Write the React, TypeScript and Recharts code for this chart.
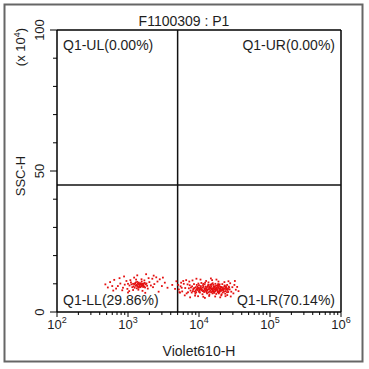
import React from 'react';
import { ScatterChart, Scatter, XAxis, YAxis, ReferenceLine, ReferenceArea } from 'recharts';

const chartTitle = 'F1100309 : P1';
const xTitle = 'Violet610-H';
const yTitle = 'SSC-H';
const yUnitBase = '(x 10';
const yUnitExp = '4';
const yUnitEnd = ')';

const xTicks = [
  100, 200, 300, 400, 500, 600, 700, 800, 900,
  1000, 2000, 3000, 4000, 5000, 6000, 7000, 8000, 9000,
  10000, 20000, 30000, 40000, 50000, 60000, 70000, 80000, 90000,
  100000, 200000, 300000, 400000, 500000, 600000, 700000, 800000, 900000,
  1000000,
];
const yTicks = [0, 10, 20, 30, 40, 50, 60, 70, 80, 90, 100];
const yLabelTicks = [0, 50, 100];

const xGate = 5000;
const yGate = 45;

const qUL = 'Q1-UL(0.00%)';
const qUR = 'Q1-UR(0.00%)';
const qLL = 'Q1-LL(29.86%)';
const qLR = 'Q1-LR(70.14%)';

// Q1-LL population (Violet610-H, SSC-H x10^4)
const llPoints: [number, number][] = [
  [1050, 9.4], [1120, 9.8], [1200, 9.1], [1260, 10.2], [1310, 9.6], [1380, 9.0], [1420, 10.4], [1480, 9.7],
  [1530, 9.2], [1600, 10.0], [1650, 9.5], [1720, 10.3], [1780, 9.8], [1150, 8.8], [1240, 8.6], [1350, 10.7],
  [1450, 8.9], [1560, 10.8], [1690, 9.0], [1820, 10.1], [1000, 10.0], [1100, 10.5], [1280, 9.3], [1390, 9.9],
  [1510, 10.2], [1620, 9.6], [1740, 8.7], [1860, 9.3], [1330, 8.4], [1470, 10.0],
  [1230, 9.9], [1340, 9.3], [1440, 9.5], [1580, 9.4], [1670, 10.1], [1370, 10.1], [1500, 8.8], [1180, 10.0],
  [1410, 8.6], [1630, 8.9], [1290, 10.5], [1540, 9.9],
  [720, 9.2], [780, 10.1], [850, 8.6], [900, 9.7], [950, 11.0], [980, 8.2], [1080, 11.3], [1180, 7.8],
  [1300, 11.5], [1400, 7.9], [1550, 11.6], [1700, 11.2], [1900, 8.3], [2000, 10.6], [2100, 9.4], [2200, 11.8],
  [2350, 9.9], [2500, 12.3], [2600, 10.8], [1950, 12.0], [830, 7.7], [1220, 12.2], [1600, 7.5], [2250, 8.8],
  [1040, 7.4],
  [480, 9.8], [520, 8.7], [560, 10.6], [600, 9.2], [640, 11.4], [680, 8.3], [760, 12.0], [880, 12.6],
  [1000, 6.9], [1350, 13.0], [1800, 13.4], [2300, 12.9], [2800, 11.6], [3000, 9.2], [3300, 10.4], [3600, 8.6],
  [2700, 7.2], [1750, 6.8], [620, 7.6], [3100, 12.2], [4200, 9.6], [4600, 8.2], [4800, 10.9],
];

// Q1-LR population
const lrPoints: [number, number][] = [
  [7200, 8.4], [7600, 7.6], [8000, 9.1], [8300, 8.0], [8700, 7.2], [9000, 8.8], [9300, 9.6], [9600, 7.8],
  [10000, 8.4], [10300, 6.9], [10600, 9.2], [11000, 8.0], [11300, 7.4], [11600, 8.9], [12000, 9.8], [12300, 7.7],
  [12700, 8.5], [13000, 6.6], [13400, 9.3], [13800, 8.1], [14200, 7.3], [14600, 8.7], [15000, 9.9], [15400, 7.9],
  [15800, 8.4], [16300, 6.8], [16700, 9.1], [17200, 7.6], [17700, 8.6], [18200, 9.5], [18700, 7.1], [19200, 8.2],
  [19800, 9.0], [20400, 7.5], [21000, 8.8], [21600, 6.9], [22300, 8.1], [23000, 9.4], [23700, 7.4], [24500, 8.5],
  [25300, 7.8], [26200, 9.0], [27000, 8.0],
  [7400, 9.5], [7900, 6.9], [8500, 9.9], [8900, 6.5], [9400, 8.2], [9800, 10.1], [10200, 7.5], [10800, 10.3],
  [11200, 6.3], [11800, 7.1], [12200, 10.4], [12900, 7.9], [13200, 8.9], [13600, 10.5], [14000, 6.2], [14400, 9.6],
  [14800, 7.0], [15200, 8.1], [15600, 10.2], [16000, 7.4], [16500, 8.0], [17000, 10.0], [17500, 6.4], [18000, 7.8],
  [18500, 8.9], [19000, 6.6], [19500, 9.8], [20100, 8.4], [20800, 6.3], [21300, 9.9], [22000, 7.6], [22700, 9.0],
  [23400, 6.5], [24100, 8.0], [24900, 9.6], [25800, 7.1], [26600, 8.7],
  [7000, 7.0], [7700, 8.7], [8200, 7.4], [8600, 8.5], [9100, 7.0], [9500, 9.0], [9900, 7.2], [10400, 8.7],
  [10900, 7.7], [11400, 9.5], [11900, 8.3], [12500, 9.0], [13100, 7.6], [13700, 7.0], [14300, 8.3], [14900, 9.2],
  [15500, 6.6], [16100, 8.9], [16800, 7.3], [17400, 9.3], [17900, 8.1], [18400, 7.4], [19100, 9.4], [19700, 7.3],
  [20300, 8.9], [21100, 7.9], [21800, 8.5], [22500, 7.2], [23200, 8.3], [24000, 9.1], [24800, 7.0], [25600, 8.2],
  [9200, 8.0], [9700, 8.6], [10100, 7.9], [10700, 8.3], [11100, 8.7], [11700, 7.6], [12100, 8.1], [12600, 7.3],
  [13300, 8.0], [13900, 8.6], [14500, 7.7], [15100, 8.4], [15700, 7.5], [16200, 8.2], [16600, 8.7], [17100, 7.9],
  [17800, 8.3], [18300, 7.0], [18900, 8.6], [19400, 7.7], [20000, 8.1], [20700, 7.7], [21400, 8.2], [10000, 9.5],
  [11500, 10.0], [13500, 9.7], [15900, 9.6], [18600, 9.9], [8400, 8.3], [9000, 7.6], [12800, 7.0], [14100, 9.0],
  [16400, 7.0], [19300, 7.0], [21900, 7.8], [23800, 8.7], [10600, 8.1], [12400, 8.4], [15300, 7.2], [17300, 8.4],
  [5200, 8.0], [5500, 9.1], [5800, 7.3], [6100, 10.0], [6400, 8.5], [6700, 6.6], [6900, 9.8], [5400, 6.9],
  [6000, 11.0], [6600, 11.3], [7300, 10.8], [8100, 11.2], [8800, 5.8], [9700, 5.6], [10500, 11.5], [11500, 5.4],
  [12600, 11.0], [13900, 5.7], [15300, 11.3], [16900, 5.5], [18800, 10.8], [20600, 5.9], [22800, 10.6], [25000, 6.0],
  [27500, 10.2], [28500, 7.2], [29500, 8.8], [30500, 6.6], [31500, 9.6], [33000, 7.9], [34500, 8.9], [28000, 5.5],
  [26000, 10.9], [32000, 11.0], [5600, 10.4], [6300, 5.9], [7500, 5.2], [9200, 11.8], [12100, 5.0], [14700, 11.9],
  [17600, 11.5], [19900, 5.2], [23600, 5.6], [36000, 7.4], [5100, 9.6], [5300, 7.0], [5700, 8.6],
];

const llData = llPoints.map(([x, y]) => ({ x, y }));
const lrData = lrPoints.map(([x, y]) => ({ x, y }));

const FONT = '"Liberation Sans", Arial, sans-serif';
const TEXT = '#1e1e1e';
const DOT = '#e41010';

function XTick(props: any) {
  const { x, y, payload } = props;
  const e = Math.log10(payload.value);
  const major = Math.abs(e - Math.round(e)) < 1e-9;
  return (
    <g>
      <line x1={x} x2={x} y1={y} y2={y + (major ? 5 : 3)} stroke="#000" strokeWidth={1} />
      {major && (
        <text x={x} y={y + 17} textAnchor="middle" fontSize={13} fill={TEXT} fontFamily={FONT}>
          10
          <tspan dy={-6} fontSize={9}>{Math.round(e)}</tspan>
        </text>
      )}
    </g>
  );
}

function YTick(props: any) {
  const { x, y, payload } = props;
  const v = payload.value;
  const major = yLabelTicks.includes(v);
  return (
    <g>
      <line x1={x} x2={x - (major ? 7 : 4)} y1={y} y2={y} stroke="#000" strokeWidth={1} />
      {major && (
        <text
          x={x - 13}
          y={y}
          transform={`rotate(-90 ${x - 13} ${y})`}
          textAnchor="middle"
          fontSize={13}
          fill={TEXT}
          fontFamily={FONT}
        >
          {v}
        </text>
      )}
    </g>
  );
}

function quadLabel(text: string, corner: 'tl' | 'tr' | 'bl' | 'br') {
  return (props: any) => {
    const vb = props.viewBox || {};
    const left = corner === 'tl' || corner === 'bl';
    const top = corner === 'tl' || corner === 'tr';
    const x = left ? vb.x + 6 : vb.x + vb.width - 6;
    const y = top ? vb.y + 20 : vb.y + vb.height - 7;
    return (
      <text x={x} y={y} textAnchor={left ? 'start' : 'end'} fontSize={14} fill={TEXT} fontFamily={FONT}>
        {text}
      </text>
    );
  };
}

const Dot = (props: any) => (
  <rect x={props.cx - 0.9} y={props.cy - 0.9} width={1.8} height={1.8} fill={DOT} />
);

export default function App() {
  return (
    <div style={{ position: 'absolute', left: 0, top: 0, width: 369, height: 369, background: '#fff' }}>
      <ScatterChart width={369} height={369} margin={{ top: 30, right: 28, bottom: 27, left: 7 }}>
        <rect x={4.5} y={4.5} width={358} height={357} fill="none" stroke="#666" strokeWidth={2} />
        <text x={184} y={25.5} textAnchor="middle" fontSize={14} fill={TEXT} fontFamily={FONT}>
          {chartTitle}
        </text>
        <text x={199} y={356} textAnchor="middle" fontSize={14} fill={TEXT} fontFamily={FONT}>
          {xTitle}
        </text>
        <text x={25} y={176} transform="rotate(-90 25 176)" textAnchor="middle" fontSize={13} fill={TEXT} fontFamily={FONT}>
          {yTitle}
        </text>
        <text x={25} y={47} transform="rotate(-90 25 47)" textAnchor="middle" fontSize={13} fill={TEXT} fontFamily={FONT}>
          {yUnitBase}
          <tspan dy={-5} fontSize={9}>{yUnitExp}</tspan>
          <tspan dy={5}>{yUnitEnd}</tspan>
        </text>
        <XAxis
          type="number"
          dataKey="x"
          scale="log"
          domain={[100, 1000000]}
          allowDataOverflow
          ticks={xTicks}
          interval={0}
          tickSize={0}
          tickMargin={0}
          tickLine={false}
          tick={<XTick />}
          height={30}
          axisLine={{ stroke: '#000', strokeWidth: 1.5 }}
        />
        <YAxis
          type="number"
          dataKey="y"
          domain={[0, 100]}
          allowDataOverflow
          ticks={yTicks}
          interval={0}
          tickSize={0}
          tickMargin={0}
          tickLine={false}
          tick={<YTick />}
          width={50}
          axisLine={{ stroke: '#000', strokeWidth: 1.5 }}
        />
        <ReferenceArea x1={100} x2={xGate} y1={yGate} y2={100} fill="none" stroke="none" label={quadLabel(qUL, 'tl')} />
        <ReferenceArea x1={xGate} x2={1000000} y1={yGate} y2={100} fill="none" stroke="none" label={quadLabel(qUR, 'tr')} />
        <ReferenceArea x1={100} x2={xGate} y1={0} y2={yGate} fill="none" stroke="none" label={quadLabel(qLL, 'bl')} />
        <ReferenceArea x1={xGate} x2={1000000} y1={0} y2={yGate} fill="none" stroke="none" label={quadLabel(qLR, 'br')} />
        <ReferenceLine y={100} stroke="#000" strokeWidth={1.5} />
        <ReferenceLine x={1000000} stroke="#000" strokeWidth={1.5} />
        <ReferenceLine x={xGate} stroke="#111" strokeWidth={1.5} />
        <ReferenceLine y={yGate} stroke="#111" strokeWidth={1.5} />
        <Scatter data={llData} shape={Dot} isAnimationActive={false} />
        <Scatter data={lrData} shape={Dot} isAnimationActive={false} />
      </ScatterChart>
    </div>
  );
}
